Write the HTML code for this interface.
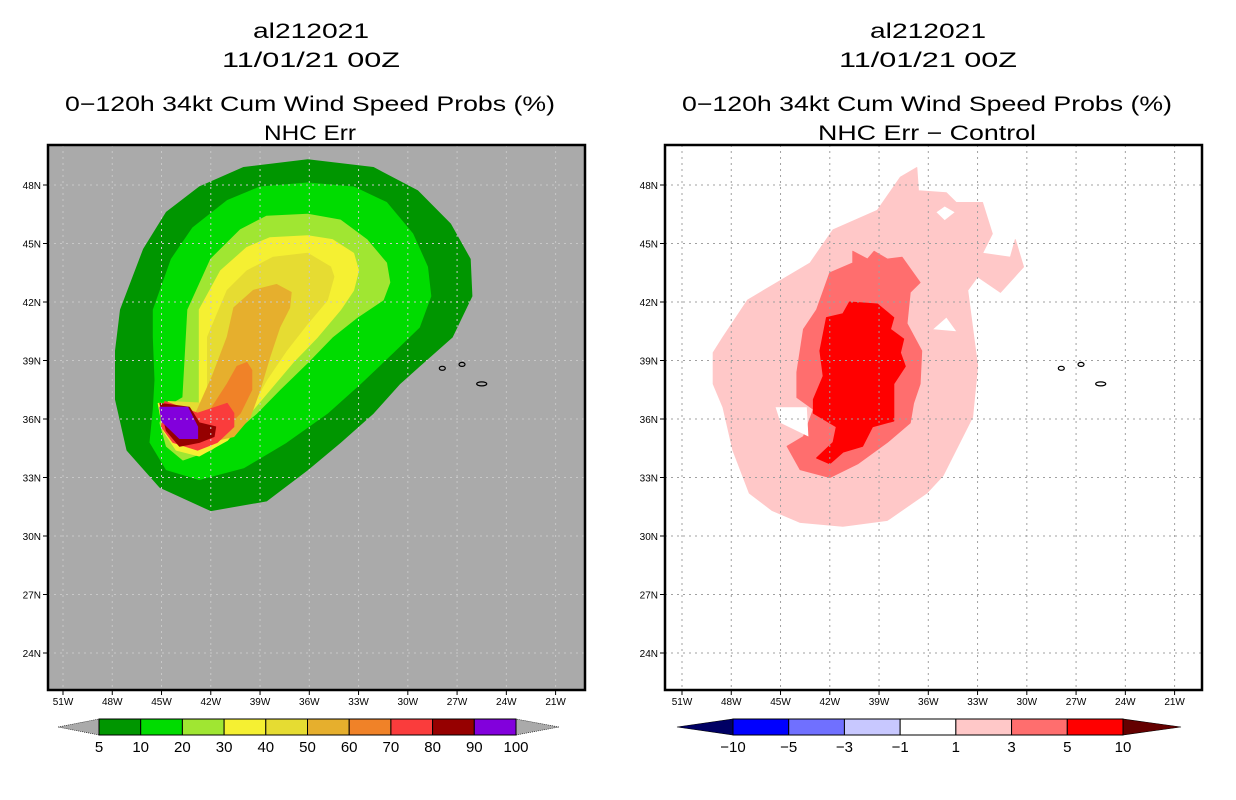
<!DOCTYPE html>
<html><head><meta charset="utf-8">
<style>
html,body{margin:0;padding:0;background:#fff;}
svg{display:block;font-family:"Liberation Sans",sans-serif;}
</style></head>
<body>
<svg id="chart" width="1236" height="800" viewBox="0 0 1236 800">
  <g font-size="21" text-anchor="middle" fill="#000">
    <text x="311" y="38" textLength="116" lengthAdjust="spacingAndGlyphs">al212021</text>
    <text x="311" y="67" textLength="178" lengthAdjust="spacingAndGlyphs">11/01/21 00Z</text>
    <text x="310" y="111" textLength="490" lengthAdjust="spacingAndGlyphs">0−120h 34kt Cum Wind Speed Probs (%)</text>
    <text x="310" y="140" textLength="92" lengthAdjust="spacingAndGlyphs">NHC Err</text>
  </g>
  <g font-size="21" text-anchor="middle" fill="#000">
    <text x="928" y="38" textLength="116" lengthAdjust="spacingAndGlyphs">al212021</text>
    <text x="928" y="67" textLength="178" lengthAdjust="spacingAndGlyphs">11/01/21 00Z</text>
    <text x="927" y="111" textLength="490" lengthAdjust="spacingAndGlyphs">0−120h 34kt Cum Wind Speed Probs (%)</text>
    <text x="927" y="140" textLength="218" lengthAdjust="spacingAndGlyphs">NHC Err − Control</text>
  </g>
  <g id="leftPanel"></g>
  <g id="rightPanel"></g>
  <g id="leftBar"></g>
  <g id="rightBar"></g>
</svg>
<script>
// ---- axis data ----
const latTicks = [48,45,42,39,36,33,30,27,24];
const lonTicks = [51,48,45,42,39,36,33,30,27,24,21];

// ---- left panel contour data (lonW, lat) ----
const leftLevels = [5,10,20,30,40,50,60,70,80,90];
const leftColors = ["#009600","#00dc00","#a0e632","#f5f032","#e6dc32","#e6af2d","#f08228","#fa3c3c","#960000","#8200dc"];
const leftC5 = [[47.8,39.5],[47.5,41.6],[46.1,44.7],[44.7,46.6],[42.7,47.9],[40.0,48.9],[36.1,49.3],[32.1,48.9],[29.4,47.7],[27.4,46.0],[26.2,44.2],[26.1,42.3],[27.3,40.2],[29.3,38.7],[30.5,37.8],[32.1,36.3],[34.1,34.8],[36.1,33.4],[38.6,31.8],[42.0,31.3],[45.1,32.5],[47.1,34.4],[47.8,37.0]];
const leftC10 = [[45.5,40.2],[45.5,41.6],[44.4,44.2],[43.1,45.8],[41.0,47.2],[39.0,47.9],[36.1,48.1],[33.3,47.9],[31.3,47.1],[29.7,45.5],[28.8,43.8],[28.6,42.3],[29.3,40.7],[30.9,39.4],[32.9,37.8],[34.9,36.3],[37.4,34.8],[40.0,33.5],[42.7,32.9],[44.7,33.4],[45.7,34.8],[45.5,36.5],[45.4,38.0]];
const leftC20 = [[43.7,37.1],[43.4,41.6],[42.0,44.2],[40.2,45.7],[38.6,46.4],[36.1,46.5],[34.1,46.2],[32.5,45.2],[31.3,44.0],[31.1,43.0],[31.5,42.1],[33.1,41.2],[34.6,40.2],[36.1,38.9],[37.8,37.5],[39.2,36.3],[40.6,35.3],[42.0,34.4],[43.7,33.9],[44.7,34.6],[45.1,35.8],[44.7,36.6]];
const leftC30 = [[42.7,36.8],[42.7,41.6],[41.4,43.6],[39.8,44.8],[38.4,45.3],[36.1,45.4],[34.6,45.2],[33.3,44.5],[33.0,43.6],[33.3,42.6],[34.1,41.6],[35.5,40.2],[37.0,38.9],[38.4,37.5],[39.8,36.1],[41.0,34.9],[42.7,34.1],[44.1,34.4],[44.9,35.4],[45.2,36.8]];
const leftC40 = [[42.2,36.8],[42.2,40.2],[41.0,42.6],[39.8,43.6],[38.2,44.3],[36.1,44.5],[34.7,43.8],[34.5,43.3],[34.9,42.1],[36.1,40.9],[37.4,39.5],[38.6,38.0],[39.6,36.5],[40.6,35.3],[42.2,34.8],[43.4,35.1],[44.1,35.8],[44.6,36.9]];
const leftC50 = [[42.8,36.5],[41.9,38.2],[41.0,40.2],[40.6,41.7],[39.4,42.6],[38.0,42.9],[37.1,42.5],[37.2,41.7],[37.8,40.7],[38.4,39.2],[39.0,37.5],[39.6,36.1],[40.6,35.1],[42.2,34.8],[43.6,35.2]];
const leftC60 = [[42.0,36.5],[41.0,37.8],[40.4,38.7],[39.8,38.9],[39.5,38.5],[39.5,37.5],[40.2,36.3],[41.0,35.6],[42.2,35.1],[43.2,35.3]];
const leftC70 = [[44.8,36.9],[42.8,36.3],[41.0,36.8],[40.6,36.3],[40.6,35.6],[41.6,34.8],[42.8,34.4],[44.3,34.8],[45.0,35.6]];
const leftC80 = [[45.1,36.8],[43.3,36.6],[42.7,35.8],[41.7,35.6],[41.8,35.1],[42.7,34.8],[43.9,34.6],[44.7,35.4]];
const leftC90 = [[45.1,36.6],[43.4,36.6],[42.8,35.6],[42.8,35.0],[43.9,35.0],[45.0,35.9]];
const leftContours = [leftC5,leftC10,leftC20,leftC30,leftC40,leftC50,leftC60,leftC70,leftC80,leftC90];

// ---- right panel contour data (lonW, lat) ----
const rightColors = ["#ffc8c8","#ff6e6e","#ff0000"];
const rightC1 = [[49.1,39.4],[48.5,40.2],[47.0,42.1],[45.0,43.1],[43.2,44.0],[41.8,45.7],[39.1,46.7],[37.7,48.4],[36.7,48.9],[36.6,47.7],[34.9,47.6],[34.3,47.1],[32.7,47.1],[32.1,45.5],[32.7,44.5],[31.0,44.3],[30.7,45.2],[30.2,43.8],[31.6,42.5],[33.0,43.3],[33.6,42.6],[33.0,38.7],[33.3,36.1],[35.1,33.1],[36.1,32.2],[38.5,30.8],[41.2,30.5],[43.8,30.7],[45.5,31.3],[46.9,32.2],[47.9,34.4],[48.5,36.6],[49.1,37.8]];
const rightC3 = [[44.6,34.6],[43.6,35.1],[43.0,36.5],[44.0,37.1],[44.0,38.4],[43.6,40.6],[42.8,41.6],[42.0,43.5],[40.6,44.0],[40.6,44.6],[39.7,44.2],[39.3,44.6],[38.5,44.2],[37.6,44.3],[36.5,43.0],[37.1,42.5],[37.3,40.9],[36.4,39.5],[36.5,37.8],[36.9,36.8],[37.1,35.8],[38.5,34.8],[40.3,33.7],[42.0,33.0],[43.8,33.4]];
const rightC5 = [[42.8,34.0],[41.8,34.8],[41.6,35.6],[43.0,36.3],[43.0,37.0],[42.4,38.2],[42.6,39.5],[42.2,41.2],[41.2,41.4],[40.8,42.0],[39.1,41.9],[38.1,41.2],[38.3,40.6],[37.5,40.1],[37.7,39.4],[37.4,38.7],[38.1,37.8],[38.1,35.9],[39.4,35.6],[40.0,34.6],[41.2,34.3],[42.0,33.7]];
const rightContours = [rightC1,rightC3,rightC5];
const holeA = [[45.3,36.6],[43.4,36.6],[43.3,35.1],[45.0,35.8]];
const holeB = [[35.7,40.6],[34.9,41.2],[34.3,40.5]];
const holeC = [[35.0,46.9],[34.4,46.6],[35.0,46.2],[35.5,46.6]];
const rightHoles = [holeA,holeB,holeC];

// ---- colorbar data ----
const leftBarLabels = ["5","10","20","30","40","50","60","70","80","90","100"];
const rightBarLabels = ["−10","−5","−3","−1","1","3","5","10"];
const rightBarColors = ["#0000ff","#7070ff","#c8c8ff","#ffffff","#ffc8c8","#ff6e6e","#ff0000"];

// ---- geometry ----
const NS = "http://www.w3.org/2000/svg";
const top_=145, bot=690;
function yLat(lat){ return 185 + (48-lat)*19.5; }
function xLon(lonW, off){ return 63 + off + (51-lonW)*16.42; }
function mk(tag, attrs, parent){ const e=document.createElementNS(NS,tag); for(const k in attrs) e.setAttribute(k,attrs[k]); parent.appendChild(e); return e; }
function pts(poly, off){ return poly.map(p=>xLon(p[0],off).toFixed(1)+","+yLat(p[1]).toFixed(1)).join(" "); }

function panel(g, off, left, bg, gridColor, contours, colors, levels, holes, clipId){
  const L=left, R=left+537;
  const defs = mk("defs",{},g);
  const cp = mk("clipPath",{id:clipId},defs);
  mk("rect",{x:L,y:top_,width:R-L,height:bot-top_},cp);
  const bgR = mk("rect",{x:L,y:top_,width:R-L,height:bot-top_,fill:bg},g);
  
  
  const cg = mk("g",{"clip-path":"url(#"+clipId+")"},g);
  contours.forEach((c,i)=>{
    const p = mk("polygon",{points:pts(c,off),fill:colors[i],stroke:colors[i],"stroke-width":1,"stroke-linejoin":"round"},cg);
    
    
  });
  holes.forEach(h=>{
    const p = mk("polygon",{points:pts(h,off),fill:"#ffffff"},cg);
    
    
  });
  latTicks.forEach(lat=>{
    const y=yLat(lat);
    const l = mk("line",{x1:L,x2:R,y1:y,y2:y,stroke:gridColor,"stroke-width":1,"stroke-dasharray":"2,4"},g);
    
    
    const t = mk("line",{x1:L-5,x2:L,y1:y,y2:y,stroke:"#000"},g);
    
    
    const tx = mk("text",{x:L-7,y:y+4,"font-size":10,"text-anchor":"end"},g);
    tx.textContent = lat+"N";
    
    
  });
  lonTicks.forEach(lon=>{
    const x=xLon(lon,off);
    const l = mk("line",{x1:x,x2:x,y1:top_,y2:bot,stroke:gridColor,"stroke-width":1,"stroke-dasharray":"2,4"},g);
    
    
    const t = mk("line",{x1:x,x2:x,y1:bot,y2:bot+5,stroke:"#000"},g);
    
    
    const tx = mk("text",{x:x,y:bot+15,"font-size":10,"text-anchor":"middle"},g);
    tx.textContent = lon+"W";
    
    
  });
  const isl = [[27.9,38.6],[26.7,38.8],[25.5,37.8]];
  isl.forEach((p,i)=>{
    const e = mk("ellipse",{cx:xLon(p[0],off),cy:yLat(p[1]),rx:i==2?5:3,ry:2,fill:"none",stroke:"#000","stroke-width":1.2},g);
    
    
  });
  const fr = mk("rect",{x:L,y:top_,width:R-L,height:bot-top_,fill:"none",stroke:"#000","stroke-width":2.5},g);
  
  
}

panel(document.getElementById("leftPanel"),0,48,"#aaaaaa","#c8c8c8",leftContours,leftColors,leftLevels,[],"clipL");
panel(document.getElementById("rightPanel"),619,665,"#ffffff","#a0a0a0",rightContours,rightColors,[1,3,5],rightHoles,"clipR");

function colorbar(g, x0, x1, tl, tr, colors, labels, leftTri, rightTri){
  const y0=719, y1=735, ym=727;
  const n=colors.length, w=(x1-x0)/n;
  const a = mk("polygon",{points:`${tl},${ym} ${x0},${y0} ${x0},${y1}`,fill:leftTri,stroke:"#000","stroke-width":0.6,"stroke-dasharray":leftTri=="#aaaaaa"?"1,1":"none"},g);
  
  
  const b = mk("polygon",{points:`${tr},${ym} ${x1},${y0} ${x1},${y1}`,fill:rightTri,stroke:"#000","stroke-width":0.6,"stroke-dasharray":rightTri=="#aaaaaa"?"1,1":"none"},g);
  
  
  colors.forEach((c,i)=>{
    const r = mk("rect",{x:x0+i*w,y:y0,width:w,height:y1-y0,fill:c,stroke:"#000","stroke-width":1},g);
    
    
  });
  labels.forEach((s,i)=>{
    const t = mk("text",{x:x0+i*w,y:752,"font-size":15,"text-anchor":"middle"},g);
    t.textContent=s;
    
    
  });
}
colorbar(document.getElementById("leftBar"),99,516,58,559,leftColors,leftBarLabels,"#aaaaaa","#aaaaaa");
colorbar(document.getElementById("rightBar"),733,1123,677,1181,rightBarColors,rightBarLabels,"#000064","#640000");
</script>
</body></html>
